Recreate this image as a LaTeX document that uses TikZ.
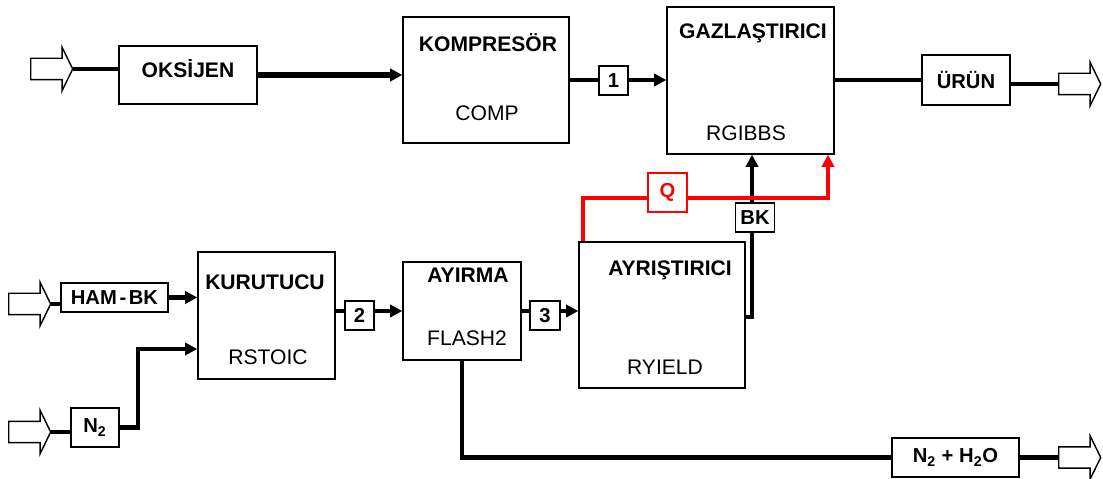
\documentclass[tikz,border=0pt]{standalone}
\usepackage{fontspec}
\setmainfont{Liberation Sans}
\usetikzlibrary{positioning,arrows.meta,shapes.arrows}
\definecolor{heatred}{RGB}{255,0,0}

\begin{document}
\begin{tikzpicture}[
  x=0.02cm, y=-0.02cm,
  unit/.style={draw, line width=0.8pt, fill=white, inner sep=0pt},
  tag/.style={draw, line width=0.8pt, fill=white, inner sep=0pt,
    minimum height=0.58cm, font=\bfseries\fontsize{11.5}{13}\selectfont},
  title/.style={font=\bfseries\fontsize{12}{14}\selectfont},
  model/.style={font=\fontsize{12}{14}\selectfont},
  feed/.style={single arrow, draw, line width=0.8pt, fill=white,
    inner xsep=0pt, inner ysep=0.2cm, minimum height=0.84cm,
    single arrow head extend=0.22cm, single arrow tip angle=128},
  pipe/.style={line width=2.4pt},
  flow/.style={line width=2.8pt, -{Triangle[length=7pt,width=7pt]}},
  heat/.style={line width=2.8pt, draw=heatred}
]
\useasboundingbox (0,0) rectangle (1103,479);

%% ── UPPER LINE: Oxygen / Gasifier ──
\node[feed, anchor=tail] (inO) at (30,69) {};
\node[unit, minimum width=2.76cm, minimum height=1.16cm] (oks) at (188,75) {};
\node[title] at (188,69) {OKSİJEN};

\node[unit, minimum width=3.32cm, minimum height=2.52cm] (komp) at (486,80) {};
\node[title] at (488,43) {KOMPRESÖR};
\node[model] at (487,113) {COMP};

\node[tag, minimum width=0.58cm] (s1) at (613.5,80.5) {1};

\node[unit, minimum width=3.34cm, minimum height=2.94cm] (gaz) at (750.5,80.5) {};
\node[title] at (753,33) {GAZLAŞTIRICI};
\node[model] at (746,133) {RGIBBS};

\node[tag, minimum width=1.76cm, minimum height=1.0cm] (urun) at (966,80) {ÜRÜN};
\node[feed, anchor=tail] (outU) at (1058,84) {};

%% ── LOWER LINE: Drying / Separation / Decomposition ──
\node[feed, anchor=tail] (inH) at (8,304) {};
\node[tag, minimum width=2.14cm] (hambk) at (114.5,297.5) {HAM\kern1.5pt-\kern1.5pt BK};
\node[feed, anchor=tail] (inN) at (8,432) {};
\node[tag, minimum width=0.96cm, minimum height=0.78cm] (n2) at (95,427.5) {N\textsubscript{2}};

\node[unit, minimum width=2.74cm, minimum height=2.54cm] (kur) at (266.5,315.5) {};
\node[title] at (265,282) {KURUTUCU};
\node[model] at (268,357) {RSTOIC};

\node[tag, minimum width=0.58cm] (s2) at (359.5,315.5) {2};

\node[unit, minimum width=2.36cm, minimum height=1.96cm] (ayi) at (462,311) {};
\node[title] at (468,275) {AYIRMA};
\node[model] at (467,338) {FLASH2};

\node[tag, minimum width=0.6cm] (s3) at (545,315.5) {3};

\node[unit, minimum width=3.32cm, minimum height=2.92cm] (ayr) at (662,315) {};
\node[title] at (670,270) {AYRIŞTIRICI};
\node[model] at (665,367) {RYIELD};

\node[tag, minimum width=0.78cm] (bk) at (755,217.5) {BK};
\node[tag, minimum width=0.78cm, minimum height=0.78cm, draw=heatred,
  text=heatred] (q) at (667.5,192.5) {Q};

\node[tag, minimum width=2.54cm, minimum height=0.78cm] (wet) at (955.5,457.5)
  {N\textsubscript{2} + H\textsubscript{2}O};
\node[feed, anchor=tail] (outW) at (1058,457.5) {};

\coordinate (qa) at (583,198);
\coordinate (qb) at (828,198);
\coordinate (nbend) at (138,349);
\coordinate (bkx) at (752,317);

%% ── UPPER CONNECTORS ──
\draw[pipe] (inO.tip) -- (inO.tip -| oks.west);
\draw[flow, line width=3.2pt] (oks.east) -- (oks.east -| komp.west);
\draw[flow, -] (komp.east) -- (s1.west |- komp.east);
\draw[flow] (s1.east |- komp.east) -- (komp.east -| gaz.west);
\draw[flow, -] (gaz.east |- urun.west) -- (urun.west);
\draw[flow, -] (urun.east |- outU.tail) -- (outU.tail);

%% ── LOWER CONNECTORS ──
\draw[pipe] (inH.tip) -- (inH.tip -| hambk.west);
\draw[flow] (hambk.east) -- (hambk.east -| kur.west);
\draw[pipe] (inN.tip) -- (inN.tip -| n2.west);
\draw[flow] (n2.east) -| (nbend) -- (nbend -| kur.west);
\draw[flow, -] (kur.east |- ayi.east) -- (s2.west |- ayi.east);
\draw[flow] (s2.east |- ayi.east) -- (ayi.west);
\draw[flow, -] (ayi.east) -- (s3.west |- ayi.east);
\draw[flow] (s3.east |- ayi.east) -- (ayi.east -| ayr.west);
\draw[flow, -] (ayi.south) |- (wet.west);
\draw[flow, -] (wet.east) -- (wet.east -| outW.tail);

%% ── CHAR AND HEAT TO GASIFIER ──
\draw[flow, -] (bkx -| ayr.east) -- (bkx) -- (bkx |- bk.south);
\draw[flow] (bkx |- bk.north) -- (bkx |- gaz.south);
\draw[heat] (qa |- ayr.north) -- (qa) -- (qa -| q.west);
\draw[heat, -{Triangle[length=7pt,width=7pt]}, heatred]
  (qa -| q.east) -- (qb) -- (qb |- gaz.south);

\end{tikzpicture}
\end{document}
